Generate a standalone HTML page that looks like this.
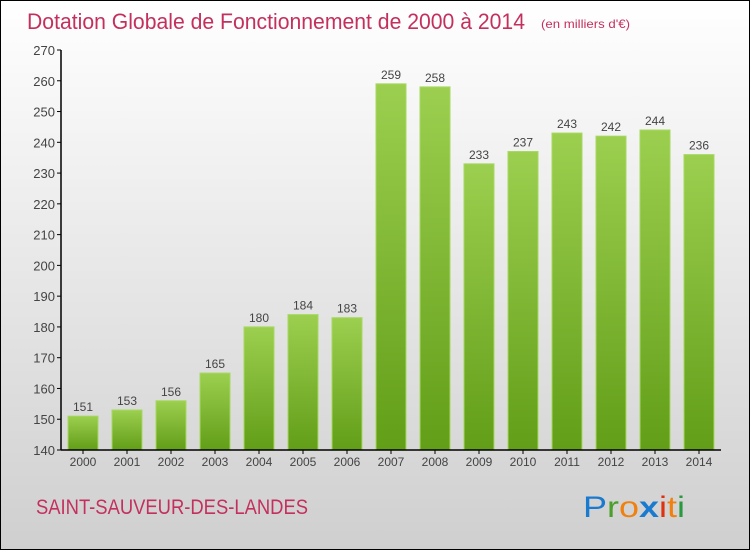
<!DOCTYPE html>
<html><head><meta charset="utf-8"><style>
body{margin:0;width:750px;height:550px;overflow:hidden}
svg{display:block;font-family:"Liberation Sans",sans-serif}
</style></head><body>
<svg width="750" height="550">
<defs>
<linearGradient id="bg" x1="0" y1="0" x2="0" y2="1"><stop offset="0" stop-color="#ffffff"/><stop offset="1" stop-color="#cfcfcf"/></linearGradient>
<linearGradient id="bar" x1="0" y1="0" x2="0" y2="1"><stop offset="0" stop-color="#9ccf4f"/><stop offset="1" stop-color="#629e18"/></linearGradient>
</defs>
<rect x="0.5" y="0.5" width="749" height="549" fill="url(#bg)" stroke="#000"/>
<text x="27" y="29" font-size="22" fill="#c4305e" textLength="498" lengthAdjust="spacingAndGlyphs">Dotation Globale de Fonctionnement de 2000 à 2014</text>
<text x="541" y="28" font-size="12" fill="#c4305e" textLength="89" lengthAdjust="spacingAndGlyphs">(en milliers d'€)</text>
<g id="yaxis"></g>
<g id="bars"></g>
<g id="xaxis"></g>
<text x="36" y="514" font-size="21" fill="#c4305e" textLength="272" lengthAdjust="spacingAndGlyphs">SAINT-SAUVEUR-DES-LANDES</text>
<g font-size="30">
<text x="583" y="517" textLength="102" lengthAdjust="spacingAndGlyphs"><tspan fill="#1a7ad0">P</tspan><tspan fill="#4aa02a">r</tspan><tspan fill="#f08010">o</tspan><tspan fill="#1a7ad0" font-weight="bold">x</tspan><tspan fill="#e03010">i</tspan><tspan fill="#f08010">t</tspan><tspan fill="#2a9a40">i</tspan></text>
</g>
</svg>
<script>
const years=["2000","2001","2002","2003","2004","2005","2006","2007","2008","2009","2010","2011","2012","2013","2014"];
const values=[151,153,156,165,180,184,183,259,258,233,237,243,242,244,236];
const yTicks=[140,150,160,170,180,190,200,210,220,230,240,250,260,270];
const NS="http://www.w3.org/2000/svg";
const y0=450,y1=50,vmin=140,vmax=270;
const ys=v=>y0-(v-vmin)/(vmax-vmin)*(y0-y1);
const xs=i=>83+i*44;
function mk(t,a,p){const e=document.createElementNS(NS,t);for(const k in a)e.setAttribute(k,a[k]);p.appendChild(e);return e;}
const ya=document.getElementById('yaxis'),xa=document.getElementById('xaxis'),bg=document.getElementById('bars');
yTicks.forEach(v=>{
 const t=mk('line',{x1:57,x2:61,y1:ys(v),y2:ys(v),stroke:'#000'},ya);
 
 
 const l=mk('text',{x:55,y:ys(v)+5,'text-anchor':'end','font-size':13,fill:'#444'},ya);
 l.textContent=v;
 
 
});
values.forEach((v,i)=>{
 const r=mk('rect',{x:xs(i)-15,y:ys(v),width:30,height:y0-ys(v),fill:'url(#bar)',stroke:'#a6d860','stroke-width':1},bg);
 
 
 const l=mk('text',{x:xs(i),y:ys(v)-5,'text-anchor':'middle','font-size':12,fill:'#444'},bg);
 l.textContent=v;
 
 
 const t=mk('line',{x1:xs(i),x2:xs(i),y1:450,y2:454,stroke:'#000'},xa);
 
 
 const xl=mk('text',{x:xs(i),y:466,'text-anchor':'middle','font-size':12,fill:'#444'},xa);
 xl.textContent=years[i];
 
 
});
const a1=mk('line',{x1:61,x2:61,y1:50,y2:450,stroke:'#000','stroke-width':1.5},ya);


const a2=mk('line',{x1:61,x2:721,y1:450,y2:450,stroke:'#000','stroke-width':1.5},xa);


</script>
</body></html>
